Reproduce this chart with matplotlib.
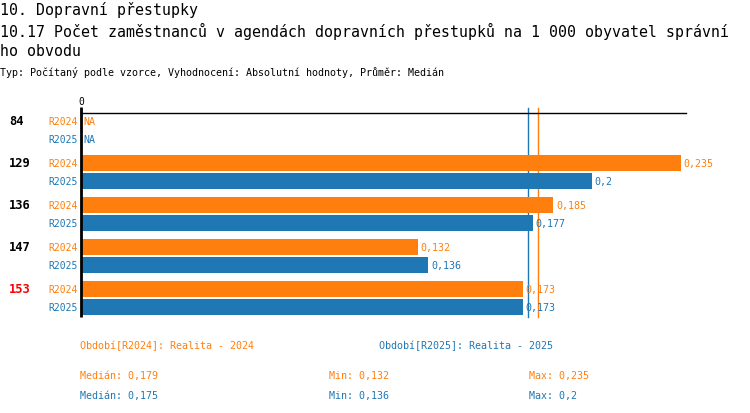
import numpy as np
import matplotlib
matplotlib.use("Agg")
import matplotlib.pyplot as plt

plt.rcParams['font.family'] = ['DejaVu Sans Mono', 'DejaVu Sans']

# data
rows = ["84", "129", "136", "147", "153"]
highlight = "153"
r2024 = [np.nan, 0.235, 0.185, 0.132, 0.173]
r2025 = [np.nan, 0.2, 0.177, 0.136, 0.173]
series_names = ["R2024", "R2025"]
period_labels = ["Období[R2024]: Realita - 2024", "Období[R2025]: Realita - 2025"]

title1 = "10. Dopravní přestupky"
title2 = "10.17 Počet zaměstnanců v agendách dopravních přestupků na 1 000 obyvatel správní"
title3 = "ho obvodu"
subtitle = "Typ: Počítaný podle vzorce, Vyhodnocení: Absolutní hodnoty, Průměr: Medián"

ORANGE = "#ff7f0e"
BLUE = "#1f77b4"
colors = [ORANGE, BLUE]

W, H = 750, 414
fig = plt.figure(figsize=(W / 100, H / 100), dpi=100)


def fx(px):
    return px / W


def fy(py):
    return 1 - py / H


# axes placed in pixel space: left 81, right 686, top 114, bottom 318
ax = fig.add_axes([fx(81), fy(318), fx(686 - 81), (318 - 114) / H])
row_px = 42.0
ax.set_ylim(4 + 19 / row_px, -17 / row_px)
ax.set_xlim(0, 0.237)
for s in ax.spines.values():
    s.set_visible(False)
ax.spines['top'].set_visible(True)
ax.spines['top'].set_linewidth(1)
ax.set_xticks([])
ax.set_yticks([])

fmt = lambda v: f"{v:g}".replace('.', ',')

off = 9 / row_px
bh = 16 / row_px
y = np.arange(len(rows))
for k, vals in enumerate([r2024, r2025]):
    yy = y + (-off if k == 0 else off)
    v = np.nan_to_num(np.array(vals, dtype=float))
    ax.barh(yy, v, height=bh, color=colors[k], linewidth=0, zorder=3)
    for yi, val in zip(yy, vals):
        txt = "NA" if np.isnan(val) else fmt(val)
        xv = 0 if np.isnan(val) else val
        ax.annotate(txt, (xv, yi), xytext=(2, 0), textcoords='offset points',
                    va='center', ha='left', color=colors[k], fontsize=7.2, zorder=4)
        ax.annotate(series_names[k], (0, yi), xytext=(-2, 0), textcoords='offset points',
                    va='center', ha='right', color=colors[k], fontsize=7.0)

for i, r in enumerate(rows):
    ax.annotate(r, (0, y[i] - off), xycoords=('axes fraction', 'data'),
                xytext=(-72 * 0.72, 0), textcoords='offset points',
                va='center', ha='left', fontsize=8.7, fontweight='bold',
                color='red' if r == highlight else 'black')

# medians, drawn behind the bars
med = [np.nanmedian(r2024), np.nanmedian(r2025)]
ytop = -17 / row_px - 5 / row_px
ybot = 4 + 19 / row_px
for k in range(2):
    ax.plot([med[k], med[k]], [ybot, ytop], color=colors[k], lw=1,
            clip_on=False, zorder=1)

# zero axis line
ax.plot([0, 0], [ybot, -17 / row_px - 6 / row_px], color='black', lw=2,
        clip_on=False, solid_capstyle='butt', zorder=5)
fig.text(fx(81), fy(102), "0", ha='center', va='center', fontsize=7)

# titles
fig.text(fx(0), fy(10), title1, ha='left', va='center', fontsize=10.7)
fig.text(fx(0), fy(31), title2, ha='left', va='center', fontsize=10.7)
fig.text(fx(0), fy(51), title3, ha='left', va='center', fontsize=10.7)
fig.text(fx(0), fy(73), subtitle, ha='left', va='center', fontsize=7.2)

# footer summary
fig.text(fx(80), fy(346), period_labels[0], color=ORANGE, ha='left', va='center', fontsize=7.2)
fig.text(fx(379), fy(346), period_labels[1], color=BLUE, ha='left', va='center', fontsize=7.2)
for k, (vals, py) in enumerate(zip([r2024, r2025], [376, 396])):
    fig.text(fx(80), fy(py), "Medián: " + fmt(round(np.nanmedian(vals), 3)),
             color=colors[k], ha='left', va='center', fontsize=7.2)
    fig.text(fx(329), fy(py), "Min: " + fmt(np.nanmin(vals)),
             color=colors[k], ha='left', va='center', fontsize=7.2)
    fig.text(fx(529), fy(py), "Max: " + fmt(np.nanmax(vals)),
             color=colors[k], ha='left', va='center', fontsize=7.2)

fig.savefig("out.png", dpi=100)
